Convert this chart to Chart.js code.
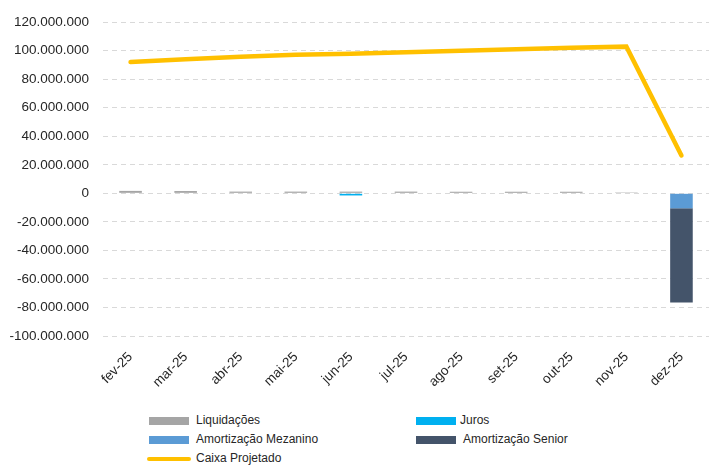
<!DOCTYPE html>
<html>
<head>
<meta charset="utf-8">
<script src="https://cdn.jsdelivr.net/npm/chart.js@4"></script>
<style>
    body { margin: 0; background: #fff; font-family: "Liberation Sans", Arial, sans-serif; }
    #wrap { position: relative; width: 709px; height: 466px; }
    #grafico { position: absolute; left: 0; top: 0; }
    .leg { position: absolute; font-size: 12px; color: #262626; line-height: 14px; white-space: nowrap; }
    .leg i { position: absolute; left: 0; top: 4px; width: 40px; height: 8px; }
    .leg span { position: absolute; left: 47px; top: 0; }
    .leg.linha i { height: 4px; top: 6px; border-radius: 2px; left: -2px; width: 44px; }
</style>
</head>
<body>
<div id="wrap">
    <canvas id="grafico" width="709" height="400"></canvas>
    <div class="leg" style="left:149px;top:413px"><i style="background:#A5A5A5"></i><span>Liquidações</span></div>
    <div class="leg" style="left:416px;top:413px"><i style="background:#00B0F0"></i><span style="left:44px">Juros</span></div>
    <div class="leg" style="left:149px;top:432px"><i style="background:#5B9BD5"></i><span>Amortização Mezanino</span></div>
    <div class="leg" style="left:416px;top:432px"><i style="background:#44546A"></i><span>Amortização Senior</span></div>
    <div class="leg linha" style="left:149px;top:451px"><i style="background:#FFC000"></i><span>Caixa Projetado</span></div>
</div>
<script>
const meses = ["fev-25", "mar-25", "abr-25", "mai-25", "jun-25", "jul-25", "ago-25", "set-25", "out-25", "nov-25", "dez-25"];

const liquidacoes  = [1700000, 1600000, 1200000, 1200000, 1200000, 1200000, 1100000, 1100000, 1100000, 600000, 0];
const juros        = [0, 0, 0, 0, -1500000, 0, 0, 0, 0, 0, 0];
const amortMezanino = [0, 0, 0, 0, 0, 0, 0, 0, 0, 0, -10500000];
const amortSenior  = [0, 0, 0, 0, 0, 0, 0, 0, 0, 0, -66000000];
const caixaProjetado = [92000000, 94000000, 95800000, 97200000, 97800000, 98800000, 100000000, 101000000, 102000000, 102800000, 26500000];

const fmt = v => v === 0 ? "0" : v.toLocaleString("pt-BR");

const barra = (label, data, cor) => ({
    type: "bar",
    label,
    data,
    backgroundColor: cor,
    order: 1,
    barPercentage: 0.41,
    categoryPercentage: 1,
});

new Chart(document.getElementById("grafico"), {
    data: {
        labels: meses,
        datasets: [
            {
                type: "line",
                label: "Caixa Projetado",
                data: caixaProjetado,
                borderColor: "#FFC000",
                borderWidth: 4.5,
                pointRadius: 0,
                borderCapStyle: "round",
                tension: 0,
                order: 0,
            },
            barra("Liquidações", liquidacoes, "#A5A5A5"),
            barra("Juros", juros, "#00B0F0"),
            barra("Amortização Mezanino", amortMezanino, "#5B9BD5"),
            barra("Amortização Senior", amortSenior, "#44546A"),
        ]
    },
    options: {
        responsive: false,
        animation: false,
        layout: { padding: { top: 20, right: 0, bottom: 0, left: 0 } },
        plugins: { legend: { display: false }, tooltip: { enabled: false } },
        scales: {
            x: {
                stacked: true,
                grid: { display: false },
                border: { display: false },
                ticks: {
                    color: "#262626",
                    font: { family: "Liberation Sans", size: 13.5 },
                    minRotation: 45,
                    maxRotation: 45,
                    padding: 5,
                },
                afterFit: s => { s.height = 64; },
            },
            y: {
                stacked: true,
                min: -100000000,
                max: 120000000,
                grid: { color: "#d9d9d9", drawTicks: false },
                border: { display: false, dash: [5, 4] },
                ticks: {
                    stepSize: 20000000,
                    color: "#262626",
                    font: { family: "Liberation Sans", size: 13.5 },
                    padding: 14,
                    callback: v => fmt(v),
                },
                afterFit: s => { s.width = 103; },
            }
        }
    }
});
</script>
</body>
</html>
